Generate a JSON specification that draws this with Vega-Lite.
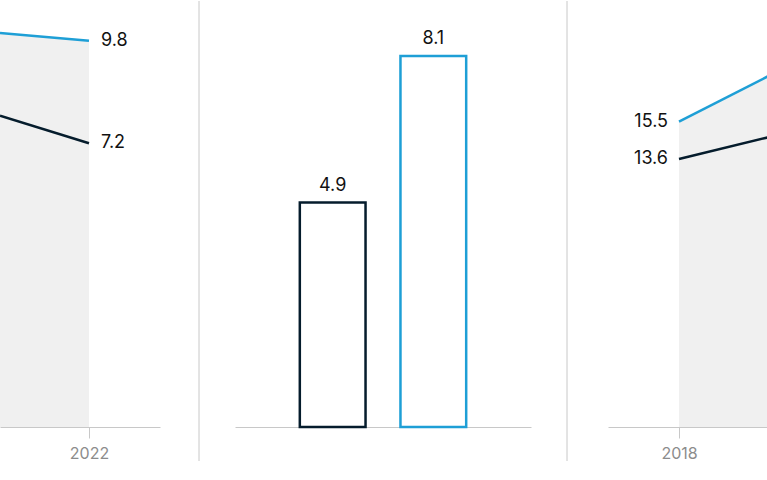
{
  "$schema": "https://vega.github.io/schema/vega-lite/v6.json",
  "padding": 0,
  "background": "white",
  "spacing": 35,
  "datasets": {
    "left": [
      {"year": 2021, "series": "A", "value": 7.9},
      {"year": 2021, "series": "B", "value": 10.0},
      {"year": 2022, "series": "A", "value": 7.2},
      {"year": 2022, "series": "B", "value": 9.8}
    ],
    "middle": [
      {"series": "A", "value": 4.9},
      {"series": "B", "value": 8.1}
    ],
    "right": [
      {"year": 2018, "series": "A", "value": 13.6},
      {"year": 2018, "series": "B", "value": 15.5},
      {"year": 2019, "series": "A", "value": 14.7},
      {"year": 2019, "series": "B", "value": 17.8}
    ]
  },
  "hconcat": [
    {
      "spacing": 38,
      "hconcat": [
        {
          "width": 160,
          "height": 426,
          "data": {"name": "left"},
          "encoding": {
            "x": {
              "field": "year",
              "type": "quantitative",
              "scale": {"domain": [2021, 2022.798], "nice": false, "zero": false},
              "axis": {"values": [2022], "format": "d", "title": null}
            },
            "y": {
              "field": "value",
              "type": "quantitative",
              "scale": {"domain": [0, 10.81], "nice": false},
              "axis": null
            }
          },
          "layer": [
            {
              "transform": [{"filter": "datum.series === 'B'"}],
              "mark": {"type": "area", "color": "#f0f0f0", "clip": true}
            },
            {
              "mark": {"type": "line", "strokeWidth": 2.5, "clip": true},
              "encoding": {
                "color": {
                  "field": "series",
                  "type": "nominal",
                  "scale": {"domain": ["A", "B"], "range": ["#051c2c", "#1e9fd6"]},
                  "legend": null
                }
              }
            },
            {
              "transform": [{"filter": "datum.year === 2022"}],
              "mark": {"type": "text", "align": "left", "baseline": "middle", "dx": 12},
              "encoding": {"text": {"field": "value", "type": "quantitative", "format": ".1f"}}
            }
          ]
        },
        {
          "width": 1,
          "height": 460,
          "data": {"values": [{}]},
          "mark": {"type": "rule", "color": "#c8c8c8", "strokeWidth": 1},
          "encoding": {"x": {"value": 0}}
        }
      ]
    },
    {
      "width": 296,
      "height": 426,
      "data": {"name": "middle"},
      "encoding": {
        "x": {
          "field": "series",
          "type": "nominal",
          "scale": {"paddingInner": 0.347, "paddingOuter": 0.644},
          "axis": {"labels": false, "ticks": false, "title": null}
        },
        "y": {
          "field": "value",
          "type": "quantitative",
          "scale": {"domain": [0, 9.3], "nice": false},
          "axis": null
        }
      },
      "layer": [
        {
          "mark": {"type": "bar", "fill": "white", "strokeWidth": 2.5},
          "encoding": {
            "stroke": {
              "field": "series",
              "type": "nominal",
              "scale": {"domain": ["A", "B"], "range": ["#051c2c", "#1e9fd6"]},
              "legend": null
            }
          }
        },
        {
          "mark": {"type": "text", "align": "center", "baseline": "alphabetic", "dy": -12},
          "encoding": {"text": {"field": "value", "type": "quantitative", "format": ".1f"}}
        }
      ]
    },
    {
      "spacing": 40,
      "hconcat": [
        {
          "width": 1,
          "height": 460,
          "data": {"values": [{}]},
          "mark": {"type": "rule", "color": "#c8c8c8", "strokeWidth": 1},
          "encoding": {"x": {"value": 0}}
        },
        {
          "width": 159,
          "height": 426,
          "data": {"name": "right"},
          "encoding": {
            "x": {
              "field": "year",
              "type": "quantitative",
              "scale": {"domain": [2017.202, 2018.989], "nice": false, "zero": false},
              "axis": {"values": [2018], "format": "d", "title": null}
            },
            "y": {
              "field": "value",
              "type": "quantitative",
              "scale": {"domain": [0, 21.62], "nice": false},
              "axis": null
            }
          },
          "layer": [
            {
              "transform": [{"filter": "datum.series === 'B'"}],
              "mark": {"type": "area", "color": "#f0f0f0", "clip": true}
            },
            {
              "mark": {"type": "line", "strokeWidth": 2.5, "clip": true},
              "encoding": {
                "color": {
                  "field": "series",
                  "type": "nominal",
                  "scale": {"domain": ["A", "B"], "range": ["#051c2c", "#1e9fd6"]},
                  "legend": null
                }
              }
            },
            {
              "transform": [{"filter": "datum.year === 2018"}],
              "mark": {"type": "text", "align": "right", "baseline": "middle", "dx": -11},
              "encoding": {"text": {"field": "value", "type": "quantitative", "format": ".1f"}}
            }
          ]
        }
      ]
    }
  ],
  "config": {
    "view": {"stroke": null},
    "text": {"font": "Inter", "fontSize": 18, "color": "#111111"},
    "axis": {
      "grid": false,
      "domainColor": "#c8c8c8",
      "tickColor": "#c8c8c8",
      "labelColor": "#8c8c8c",
      "labelFont": "Inter",
      "labelFontSize": 16,
      "tickSize": 11,
      "labelPadding": 7
    }
  }
}
